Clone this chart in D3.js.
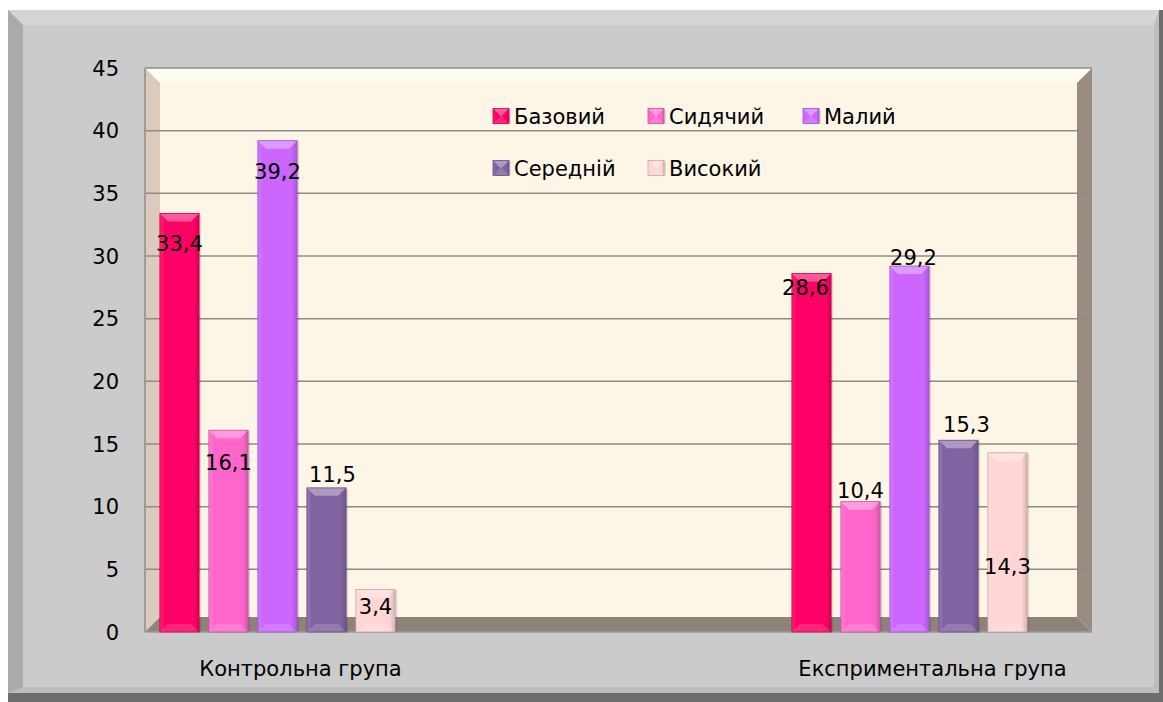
<!DOCTYPE html>
<html>
<head>
<meta charset="utf-8">
<script src="https://cdn.jsdelivr.net/npm/d3@7"></script>
<style>
  body { margin: 0; background: #fff; }
  svg text { font-family: "DejaVu Sans", sans-serif; fill: #000; }
</style>
</head>
<body>
<script>
(function () {
  'use strict';

  // chart data
  const groups = ['Контрольна група', 'Експриментальна група'];
  const seriesNames = ['Базовий', 'Сидячий', 'Малий', 'Середній', 'Високий'];
  const controlValues = [33.4, 16.1, 39.2, 11.5, 3.4];
  const experimentalValues = [28.6, 10.4, 29.2, 15.3, 14.3];
  const yTicks = [0, 5, 10, 15, 20, 25, 30, 35, 40, 45];

  const seriesColors = ['#ff0066', '#ff66cc', '#cc66ff', '#8064a2', '#ffd5d5'];

  // data label nudges (dx, dy from bar top), the labels were placed by hand
  const controlLabelShift = [[0, 30], [0, 32], [0, 31], [6, -13], [0, 17]];
  const experimentalLabelShift = [[-6, 14], [0, -11], [4, -9], [8, -16], [0, 114]];

  const width = 1163;
  const height = 702;
  const plot = { left: 145, right: 1092, top: 68, bottom: 632, depth: 15 };
  const fontSize = 21;

  let svgContainer = '';

  window.onload = function () {
    svgContainer = d3.select('body')
      .append('svg')
      .attr('width', width)
      .attr('height', height);

    drawFrame();

    let yScale = d3.scaleLinear()
      .domain([0, 45])
      .range([plot.bottom, plot.top]);

    let x0 = d3.scalePoint()
      .domain(groups)
      .range([277.5, 909.5]);

    let x1 = d3.scaleBand()
      .domain(seriesNames)
      .range([-122.5, 122.5])
      .paddingInner(0.2)
      .paddingOuter(0.1);

    drawPlotBox(yScale);
    drawAxes(x0, yScale);

    let rows = [
      { group: groups[0], values: controlValues, shift: controlLabelShift },
      { group: groups[1], values: experimentalValues, shift: experimentalLabelShift }
    ];
    rows.forEach((row) => drawBars(row, x0, x1, yScale));
    rows.forEach((row) => drawLabels(row, x0, x1, yScale));

    drawLegend();
  };

  // grey bevelled chart frame
  function drawFrame() {
    svgContainer.append('rect')
      .attr('x', 8).attr('y', 10)
      .attr('width', width - 8).attr('height', height - 10)
      .attr('fill', '#6d6d6d');

    let fx0 = 8, fy0 = 10, fx1 = 1159, fy1 = 693, b = 15;

    svgContainer.append('rect')
      .attr('x', fx0).attr('y', fy0)
      .attr('width', fx1 - fx0).attr('height', fy1 - fy0)
      .attr('fill', '#bdbdbd');

    // top light band
    svgContainer.append('polygon')
      .attr('points', [[fx0, fy0], [fx1, fy0], [fx1 - 5, fy0 + b], [fx0 + b, fy0 + b]].join(' '))
      .attr('fill', '#d4d4d4');

    // left darker band
    svgContainer.append('polygon')
      .attr('points', [[fx0, fy0], [fx0 + b, fy0 + b], [fx0 + b, fy1 - 6], [fx0, fy1]].join(' '))
      .attr('fill', '#ababab');

    svgContainer.append('rect')
      .attr('x', fx0 + b).attr('y', fy0 + b)
      .attr('width', fx1 - fx0 - b - 5).attr('height', fy1 - fy0 - b - 6)
      .attr('fill', '#cbcbcb');
  }

  // plot area drawn as a shallow box: walls, floor, grid
  function drawPlotBox(yScale) {
    let L = plot.left, R = plot.right, T = plot.top, B = plot.bottom, d = plot.depth;

    svgContainer.append('rect')
      .attr('x', L).attr('y', T)
      .attr('width', R - L).attr('height', B - T)
      .attr('fill', '#fdf5e6');

    // ceiling band
    svgContainer.append('polygon')
      .attr('points', [[L, T], [R, T], [R - d, T + d], [L + d, T + d]].join(' '))
      .attr('fill', '#fffdf0');

    // left wall
    svgContainer.append('polygon')
      .attr('points', [[L, T], [L + d, T + d], [L + d, B - d], [L, B]].join(' '))
      .attr('fill', '#dccbbc');

    // right wall
    svgContainer.append('polygon')
      .attr('points', [[R, T], [R - d, T + d], [R - d, B - d], [R, B]].join(' '))
      .attr('fill', '#998b81');

    // floor
    svgContainer.append('polygon')
      .attr('points', [[L, B], [L + d, B - d], [R - d, B - d], [R, B]].join(' '))
      .attr('fill', '#8e837a');

    // grid lines
    svgContainer.selectAll('.grid')
      .data(yTicks.filter((t) => t > 0))
      .enter()
      .append('line')
        .attr('class', 'grid')
        .attr('x1', L)
        .attr('x2', R)
        .attr('y1', (t) => yScale(t))
        .attr('y2', (t) => yScale(t))
        .attr('stroke', '#8c8c8c')
        .attr('stroke-width', 1.5);

    svgContainer.append('line')
      .attr('x1', L).attr('x2', L)
      .attr('y1', T).attr('y2', B)
      .attr('stroke', '#8c8c8c')
      .attr('stroke-width', 1.5);

    svgContainer.append('line')
      .attr('x1', L).attr('x2', R)
      .attr('y1', B).attr('y2', B)
      .attr('stroke', '#9a9a9a')
      .attr('stroke-width', 1.5);
  }

  // tick labels and category names
  function drawAxes(x0, yScale) {
    svgContainer.selectAll('.ytick')
      .data(yTicks)
      .enter()
      .append('text')
        .attr('class', 'ytick')
        .attr('x', plot.left - 26)
        .attr('y', (t) => yScale(t))
        .attr('dy', '0.36em')
        .attr('text-anchor', 'end')
        .style('font-size', fontSize + 'px')
        .text((t) => t);

    svgContainer.selectAll('.xcat')
      .data(groups)
      .enter()
      .append('text')
        .attr('class', 'xcat')
        .attr('x', (g) => x0(g) + 23)
        .attr('y', plot.bottom + 36)
        .attr('dy', '0.36em')
        .attr('text-anchor', 'middle')
        .style('font-size', fontSize + 'px')
        .text((g) => g);
  }

  // one bevelled column
  function bevelBar(g, x, y, w, h, color) {
    let c = d3.color(color);
    let b = Math.min(8, h / 2);

    g.append('rect')
      .attr('x', x + 2).attr('y', y + 1)
      .attr('width', w).attr('height', h - 1)
      .attr('fill', '#000')
      .attr('opacity', 0.12);

    g.append('rect')
      .attr('x', x).attr('y', y)
      .attr('width', w).attr('height', h)
      .attr('fill', color);

    g.append('rect')
      .attr('x', x).attr('y', y)
      .attr('width', w).attr('height', h)
      .attr('fill', 'url(#barShade)');

    g.append('polygon')
      .attr('points', [[x, y], [x + w, y], [x + w - b, y + b], [x + b, y + b]].join(' '))
      .attr('fill', '#fff')
      .attr('opacity', 0.35);

    g.append('polygon')
      .attr('points', [[x, y + h], [x + w, y + h], [x + w - b, y + h - b], [x + b, y + h - b]].join(' '))
      .attr('fill', '#fff')
      .attr('opacity', 0.15);

    g.append('rect')
      .attr('x', x).attr('y', y)
      .attr('width', w).attr('height', h)
      .attr('fill', 'none')
      .attr('stroke', c.darker(0.7))
      .attr('stroke-width', 0.8);
  }

  function drawBars(row, x0, x1, yScale) {
    if (svgContainer.select('defs').empty()) {
      let grad = svgContainer.append('defs')
        .append('linearGradient')
        .attr('id', 'barShade')
        .attr('x1', 0).attr('x2', 1).attr('y1', 0).attr('y2', 0);
      grad.append('stop').attr('offset', '0').attr('stop-color', '#fff').attr('stop-opacity', 0.15);
      grad.append('stop').attr('offset', '0.12').attr('stop-color', '#fff').attr('stop-opacity', 0);
      grad.append('stop').attr('offset', '0.85').attr('stop-color', '#000').attr('stop-opacity', 0);
      grad.append('stop').attr('offset', '1').attr('stop-color', '#000').attr('stop-opacity', 0.15);
    }

    let g = svgContainer.append('g');
    row.values.forEach((v, i) => {
      let x = x0(row.group) + x1(seriesNames[i]);
      let y = yScale(v);
      bevelBar(g, x, y, x1.bandwidth(), yScale(0) - y, seriesColors[i]);
    });
  }

  function drawLabels(row, x0, x1, yScale) {
    svgContainer.selectAll(null)
      .data(row.values)
      .enter()
      .append('text')
        .attr('x', (v, i) => x0(row.group) + x1(seriesNames[i]) + x1.bandwidth() / 2 + row.shift[i][0])
        .attr('y', (v, i) => yScale(v) + row.shift[i][1])
        .attr('dy', '0.36em')
        .attr('text-anchor', 'middle')
        .style('font-size', fontSize + 'px')
        .text((v) => String(v).replace('.', ','));
  }

  function drawLegend() {
    let colX = [493, 648, 803];
    let rowY = [116, 168];
    let size = 15;

    seriesNames.forEach((name, i) => {
      let x = colX[i < 3 ? i : i - 3];
      let y = rowY[i < 3 ? 0 : 1];
      let g = svgContainer.append('g');
      bevelBar(g, x, y - size / 2, size + 1, size, seriesColors[i]);

      svgContainer.append('text')
        .attr('x', x + 21)
        .attr('y', y)
        .attr('dy', '0.36em')
        .style('font-size', fontSize + 'px')
        .text(name);
    });
  }

})();
</script>
</body>
</html>
